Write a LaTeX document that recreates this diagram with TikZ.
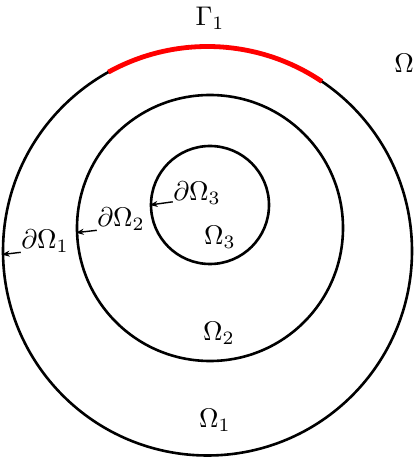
\documentclass[tikz,border=0pt]{standalone}
\usepackage{amsmath,amssymb}
\usepackage{tikz}
\usetikzlibrary{arrows.meta}
\definecolor{arccolor}{RGB}{255, 0, 0}

\begin{document}
\begin{tikzpicture}[x=1pt,y=1pt,
  ring/.style={circle,draw,line width=2.6pt,inner sep=0pt},
  lbl/.style={scale=2.7,inner sep=0pt},
  ptr/.style={-{Stealth[length=8pt,width=6pt]},line width=1.4pt}]
\useasboundingbox (0,0) rectangle (415,458);
  \node[ring,minimum size=409pt] (r1) at (207.5,207) {};
  \node[ring,minimum size=266pt] (r2) at (210,230) {};
  \node[ring,minimum size=118pt] (r3) at (210,253) {};
  \draw[arccolor,line width=4.8pt] (r1.center) ++(56:204.5) arc[start angle=56,end angle=119,radius=204.5];
  \node[lbl] (g1) at (210,440) {$\Gamma_1$};
  \node[lbl] (om) at (404,395) {$\Omega$};
  \node[lbl] (d3) at (197,265) {$\partial\Omega_3$};
  \node[lbl] (d2) at (121,239) {$\partial\Omega_2$};
  \node[lbl] (d1) at (45,217) {$\partial\Omega_1$};
  \node[lbl] (o3) at (220,221) {$\Omega_3$};
  \node[lbl] (o2) at (219,125) {$\Omega_2$};
  \node[lbl] (o1) at (215,38) {$\Omega_1$};
  \path[ptr]
    (d3.200) edge (r3.180)
    (d2.205) edge (r2.182)
    (d1.205) edge (r1.181.5);
\end{tikzpicture}
\end{document}
